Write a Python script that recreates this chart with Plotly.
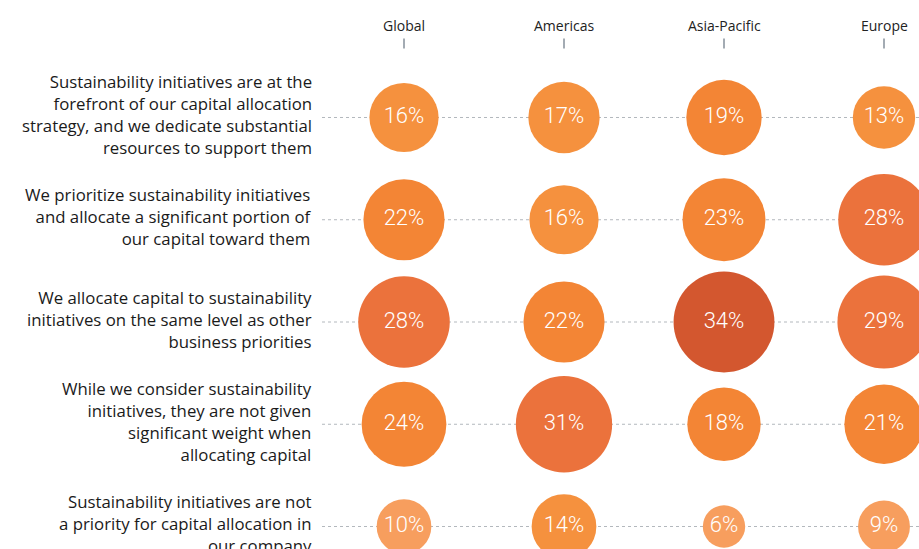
import numpy as np
import plotly.graph_objects as go

# DATA

regioes = ["Global", "Americas", "Asia-Pacific", "Europe"]

afirmacoes = [
    "Sustainability initiatives are at the<br>forefront of our capital allocation<br>strategy, and we dedicate substantial<br>resources to support them",
    "We prioritize sustainability initiatives<br>and allocate a significant portion of<br>our capital toward them",
    "We allocate capital to sustainability<br>initiatives on the same level as other<br>business priorities",
    "While we consider sustainability<br>initiatives, they are not given<br>significant weight when<br>allocating capital",
    "Sustainability initiatives are not<br>a priority for capital allocation in<br>our company",
]

global_pct = [16, 22, 28, 24, 10]
americas_pct = [17, 16, 22, 31, 14]
asia_pct = [19, 23, 34, 18, 6]
europe_pct = [13, 28, 29, 21, 9]


# CORES POR FAIXA

def cor(v):
    if v <= 10:
        return "#F79E5E"
    if v <= 17:
        return "#F5913E"
    if v <= 24:
        return "#F38535"
    if v <= 31:
        return "#EB723C"
    return "#D3572F"


# GRAFICO

fig = go.Figure()

x_min, x_max = -2.525, 3.21875
y_top, y_bot = -1.149, 4.22

# linhas pontilhadas
for i in range(len(afirmacoes)):
    fig.add_trace(go.Scatter(
        x=[-0.5125, x_max],
        y=[i, i],
        mode="lines",
        line=dict(color="#B3B8BD", width=1, dash="dot"),
        hoverinfo="skip",
        showlegend=False
    ))

series = [global_pct, americas_pct, asia_pct, europe_pct]

for j, valores in enumerate(series):
    fig.add_trace(go.Scatter(
        x=[j] * len(valores),
        y=list(range(len(valores))),
        mode="markers+text",
        marker=dict(
            size=[17.3 * np.sqrt(v) for v in valores],
            sizemode="diameter",
            color=[cor(v) for v in valores],
            line=dict(width=0),
            opacity=1
        ),
        text=[f"{v}%" for v in valores],
        textposition="middle center",
        textfont=dict(family="Roboto", size=22, color="white", weight=300),
        name=regioes[j],
        showlegend=False
    ))

# cabecalhos e marcas
for j, r in enumerate(regioes):
    fig.add_annotation(
        x=j, y=-0.9, text=r, showarrow=False,
        font=dict(family="Open Sans", size=14, color="#222222"),
        xanchor="center", yanchor="middle"
    )
    fig.add_shape(
        type="line", x0=j, x1=j, y0=-0.773, y1=-0.675,
        line=dict(color="#A3ABB3", width=2)
    )

# rotulos das linhas
for i, a in enumerate(afirmacoes):
    fig.add_annotation(
        x=-0.5625, y=i, text=a, showarrow=False,
        align="right", xanchor="right", yanchor="middle",
        yshift=3,
        font=dict(family="Open Sans", size=16.8, color="#1A1A1A")
    )

fig.update_layout(
    width=919,
    height=549,
    margin=dict(l=0, r=0, t=0, b=0),
    plot_bgcolor="white",
    paper_bgcolor="white",
    xaxis=dict(range=[x_min, x_max], visible=False, fixedrange=True),
    yaxis=dict(range=[y_bot, y_top], visible=False, fixedrange=True),
)

# tira a margem padrao do body para a figura ocupar a janela toda
fig.write_html(
    "out.html",
    config={"displayModeBar": False},
    post_script="document.body.style.margin='0';document.body.style.overflow='hidden';"
)
